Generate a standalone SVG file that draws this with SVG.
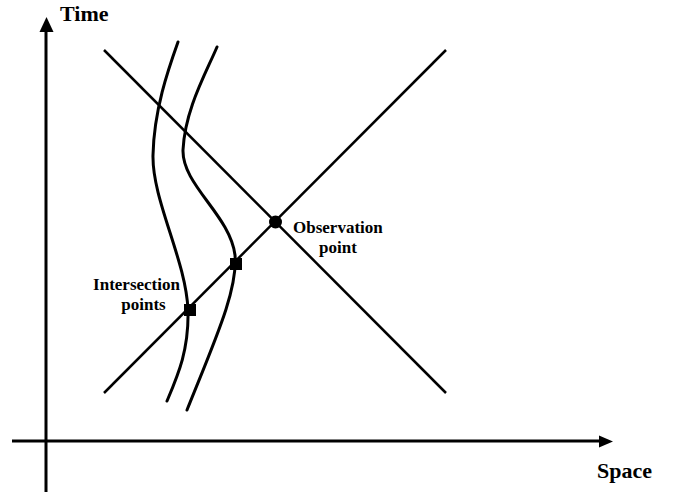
<svg xmlns="http://www.w3.org/2000/svg" width="678" height="495" viewBox="0 0 678 495">
<style>
.ax{stroke:#000;stroke-width:3;fill:none}
.ln{stroke:#000;stroke-width:2.5;fill:none}
.cv{stroke:#000;stroke-width:3;fill:none;stroke-linecap:round}
.t{font-family:"Liberation Serif",serif;font-weight:bold;fill:#000}
</style>
<rect width="678" height="495" fill="#fff"/>
<g id="connectors">
<line class="ax" x1="46" y1="492" x2="46" y2="31"/>
<path d="M39.5,32 L46.5,17 L53.5,32 Z" fill="#000"/>
<line class="ax" x1="12" y1="441" x2="600" y2="441"/>
<path d="M599,435.5 L613,441.5 L599,447.5 Z" fill="#000"/>
<line class="ln" x1="104" y1="50" x2="446" y2="393"/>
<line class="ln" x1="104" y1="393" x2="446" y2="50"/>
<path class="cv" d="M178,42 C168,70 154,110 153,155 C152,200 186,260 188,310 C189,350 178,375 167,401"/>
<path class="cv" d="M217,47 C205,75 185,110 183,150 C182,185 230,215 235,255 C238,290 215,340 187,410"/>
</g>
<g id="observation-point">
<circle cx="275.5" cy="222" r="6.5" fill="#000"/>
<text class="t" x="293" y="233" font-size="17">Observation</text>
<text class="t" x="338" y="253" font-size="17" text-anchor="middle">point</text>
</g>
<g id="intersection-1">
<rect x="230" y="258" width="12" height="12" fill="#000"/>
</g>
<g id="intersection-2">
<rect x="184" y="304" width="12" height="12" fill="#000"/>
</g>
<g id="intersection-label">
<text class="t" x="136.5" y="290" font-size="17" text-anchor="middle">Intersection</text>
<text class="t" x="143.5" y="310" font-size="17" text-anchor="middle">points</text>
</g>
<g id="time-label"><text class="t" x="60" y="21" font-size="22">Time</text></g>
<g id="space-label"><text class="t" x="597" y="478" font-size="22">Space</text></g>
</svg>
